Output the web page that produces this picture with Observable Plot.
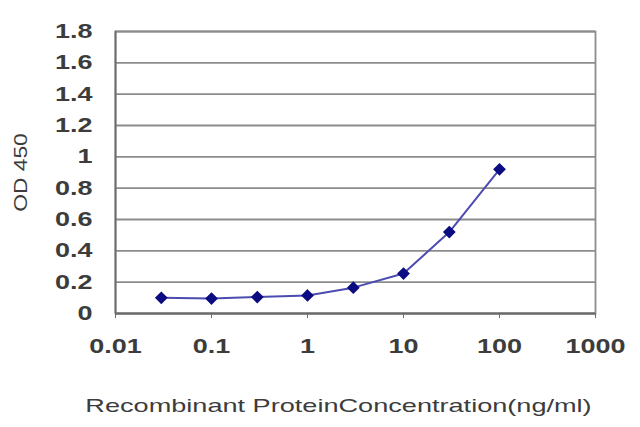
<!DOCTYPE html>
<html>
<head>
<meta charset="utf-8">
<script src="https://cdn.jsdelivr.net/npm/d3@7"></script>
<script src="https://cdn.jsdelivr.net/npm/@observablehq/plot@0.6"></script>
<style>
html,body{margin:0;padding:0;background:#fff;}
</style>
</head>
<body>
<div id="chart"></div>
<script>
const concentration = [0.03, 0.1, 0.3, 1, 3, 10, 30, 100];
const od450 = [0.10, 0.095, 0.105, 0.115, 0.165, 0.255, 0.52, 0.92];
const xTicks = [0.01, 0.1, 1, 10, 100, 1000];
const xTickLabels = ["0.01", "0.1", "1", "10", "100", "1000"];
const yTicks = [0, 0.2, 0.4, 0.6, 0.8, 1, 1.2, 1.4, 1.6, 1.8];
const yTickLabels = ["0", "0.2", "0.4", "0.6", "0.8", "1", "1.2", "1.4", "1.6", "1.8"];

const data = concentration.map((c, i) => ({c, v: od450[i]}));
const xt = xTicks.map((t, i) => ({t, label: xTickLabels[i]}));
const yt = yTicks.map((t, i) => ({t, label: yTickLabels[i]}));
const txt = "#3c3c3c";
const font = "Liberation Sans, Arial, sans-serif";

const chart = Plot.plot({
  width: 640,
  height: 427,
  marginLeft: 115,
  marginRight: 45,
  marginTop: 31,
  marginBottom: 114,
  style: {fontFamily: font, background: "#fff"},
  x: {type: "log", domain: [0.01, 1000], axis: null},
  y: {domain: [0, 1.8], axis: null},
  marks: [
    Plot.ruleY(yTicks, {stroke: "#8c8c8c", strokeWidth: 1.8}),
    Plot.frame({stroke: "#8c8c8c", strokeWidth: 1.8}),
    Plot.ruleX([0.01], {stroke: "#6a6a6a", strokeWidth: 1.8}),
    Plot.ruleY([0], {stroke: "#6a6a6a", strokeWidth: 1.8}),
    Plot.axisX(xTicks, {tickSize: 5, tickFormat: () => "", stroke: "#6a6a6a"}),
    Plot.text(yt, {y: "t", text: "label", frameAnchor: "left", textAnchor: "end", dx: -23, fontSize: 20, fill: txt, fontWeight: "bold"}),
    Plot.text(xt, {x: "t", text: "label", frameAnchor: "bottom", dy: 39, fontSize: 20, fill: txt, fontWeight: "bold"}),
    Plot.text(["OD 450"], {frameAnchor: "left", y: 0.9, dx: -95, rotate: -90, fontSize: 19, fill: txt, textAnchor: "middle"}),
    Plot.text(["Recombinant ProteinConcentration(ng/ml)"], {frameAnchor: "bottom", dy: 98, dx: -17, fontSize: 17.5, fill: txt}),
    Plot.line(data, {x: "c", y: "v", stroke: "#4c4cb0", strokeWidth: 2}),
    Plot.dot(data, {x: "c", y: "v", symbol: "diamond2", r: 4.8, fill: "#0c0c82", stroke: "#0c0c82"})
  ]
});
document.getElementById("chart").appendChild(chart);

// horizontal stretch of the text, as in the (stretched) reference image
const stretch = [1.35, 1.35, 1.2, 1.55];
d3.select(chart).selectAll('g[aria-label="text"]').each(function(_, gi) {
  const k = stretch[gi] || 1;
  d3.select(this).selectAll("text").each(function() {
    const ax = +this.getAttribute("x") || 0;
    const tr = this.getAttribute("transform") || "";
    this.setAttribute("transform", `${tr} translate(${ax},0) scale(${k},1) translate(${-ax},0)`);
  });
});
</script>
</body>
</html>
